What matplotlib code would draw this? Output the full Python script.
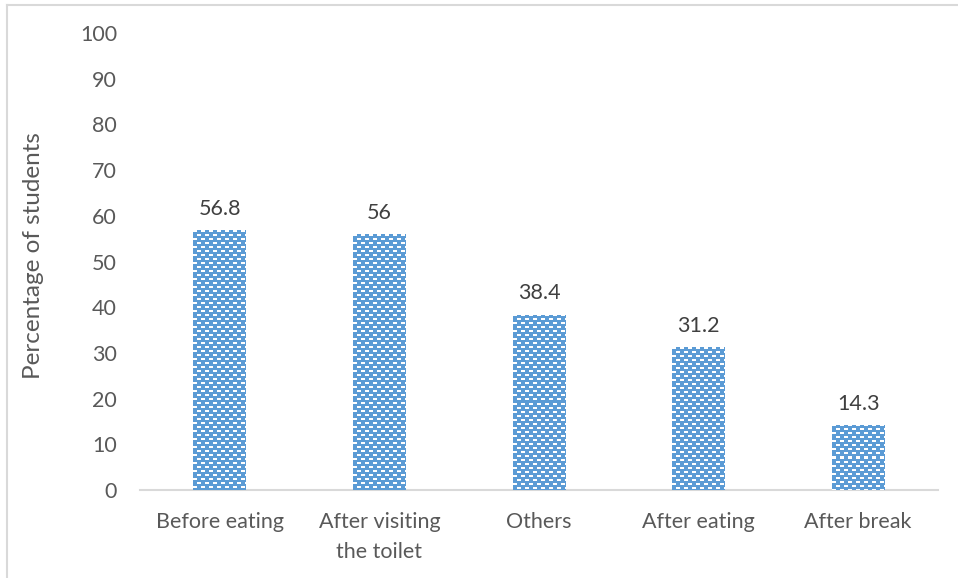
import numpy as np
import matplotlib
matplotlib.use("Agg")
import matplotlib.pyplot as plt
from matplotlib.lines import Line2D

categories = ["Before eating", "After visiting\nthe toilet", "Others", "After eating", "After break"]
values = [56.8, 56, 38.4, 31.2, 14.3]
value_labels = ["56.8", "56", "38.4", "31.2", "14.3"]
yticks = [0, 10, 20, 30, 40, 50, 60, 70, 80, 90, 100]

plt.rcParams['font.family'] = ['Lato', 'DejaVu Sans']

W, H = 958, 578
fig = plt.figure(figsize=(W / 100, H / 100), dpi=100)
ax = fig.add_axes([140 / W, (H - 490) / H, (938 - 140) / W, (490 - 33) / H])

blue = np.array([0x5B, 0x9B, 0xD5]) / 255.0
x = np.arange(len(categories))
bars = ax.bar(x, values, width=0.33, color=blue, linewidth=0, zorder=2)

ax.set_xlim(-0.5, len(categories) - 0.5)
ax.set_ylim(0, 100)


def texture(h_px, w_px):
    img = np.ones((h_px, w_px, 3)) * blue
    for r in range(h_px):
        if r % 4 < 2:
            shift = 4 if (r // 4) % 2 else 0
            for c in range(w_px):
                if (c + shift) % 8 < 4:
                    img[r, c] = 1.0
    return img


# brick-like white dash pattern clipped to each bar
for b in bars:
    x0, y0 = b.get_x(), 0
    x1, y1 = x0 + b.get_width(), b.get_height()
    p0 = ax.transData.transform((x0, y0))
    p1 = ax.transData.transform((x1, y1))
    w_px = max(int(round(p1[0] - p0[0])), 1)
    h_px = max(int(round(p1[1] - p0[1])), 1)
    im = ax.imshow(texture(h_px, w_px), extent=(x0, x1, y0, y1), aspect='auto',
                   interpolation='nearest', zorder=3)
    im.set_clip_path(b)

ax.set_xlim(-0.5, len(categories) - 0.5)
ax.set_ylim(0, 100)

for xi, v, lab in zip(x, values, value_labels):
    ax.annotate(lab, (xi, v), xytext=(0, 8), textcoords='offset points',
                ha='center', va='bottom', fontsize=15.5, color='#404040')

ax.set_xticks(x)
ax.set_xticklabels(categories, fontsize=15.5, color='#595959', linespacing=1.65)
ax.set_yticks(yticks)
ax.set_yticklabels([str(t) for t in yticks], fontsize=15.5, color='#595959')
ax.tick_params(axis='both', length=0)
ax.tick_params(axis='x', pad=15.5)
ax.tick_params(axis='y', pad=16.5)
ax.set_ylabel("Percentage of students", fontsize=17.5, color='#595959', labelpad=26)
ax.yaxis.label.set_y(0.514)

for s in ['top', 'right', 'left']:
    ax.spines[s].set_visible(False)
ax.spines['bottom'].set_color('#D9D9D9')
ax.spines['bottom'].set_linewidth(1.5)

# outer chart frame (cropped at right and bottom)
fig.add_artist(Line2D([6.5 / W, 6.5 / W], [0, 1 - 5 / H], transform=fig.transFigure,
                      color='#D9D9D9', linewidth=1.5))
fig.add_artist(Line2D([6.5 / W, 1], [1 - 5 / H, 1 - 5 / H], transform=fig.transFigure,
                      color='#D9D9D9', linewidth=1.5))

fig.savefig("out.png", dpi=100)
